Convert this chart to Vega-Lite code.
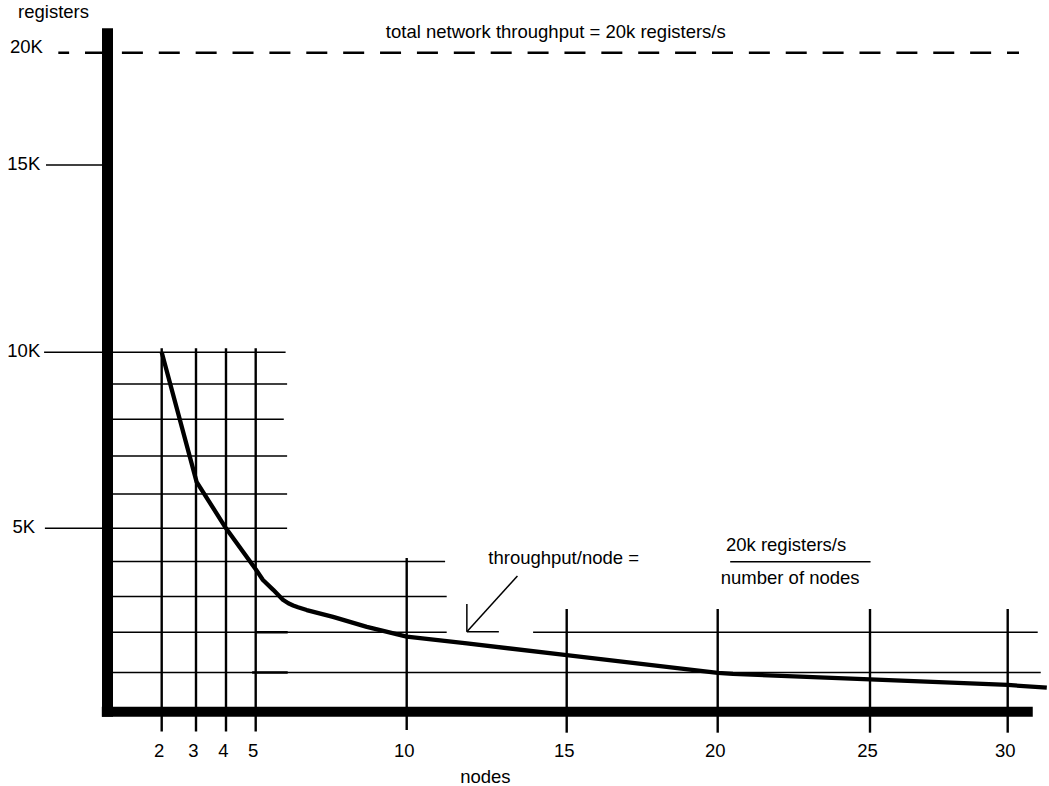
{
  "$schema": "https://vega.github.io/schema/vega-lite/v6.json",
  "width": 1049,
  "height": 786,
  "autosize": {"type": "none"},
  "padding": 0,
  "background": "white",
  "config": {"view": {"stroke": null}, "font": "Liberation Sans"},
  "datasets": {
    "hgrid": [
      {"registers": 15000, "nodes": -2.27, "nodes2": 0},
      {"registers": 10000, "nodes": -2.34, "nodes2": 5.99},
      {"registers": 9000, "nodes": 0, "nodes2": 6.04},
      {"registers": 8000, "nodes": 0, "nodes2": 5.93},
      {"registers": 7000, "nodes": 0, "nodes2": 6.04},
      {"registers": 6000, "nodes": 0, "nodes2": 6.04},
      {"registers": 5000, "nodes": -2.31, "nodes2": 6.04},
      {"registers": 4000, "nodes": 0, "nodes2": 11.2},
      {"registers": 3000, "nodes": 0, "nodes2": 11.25},
      {"registers": 2000, "nodes": 0, "nodes2": 11.25},
      {"registers": 2000, "nodes": 13.95, "nodes2": 31.09},
      {"registers": 1000, "nodes": 0, "nodes2": 31.2}
    ],
    "hbits": [
      {"registers": 2000, "nodes": 4.98, "nodes2": 6.06},
      {"registers": 1000, "nodes": 4.88, "nodes2": 6.06}
    ],
    "total": [
      {"registers": 20000, "nodes": -1.815, "nodes2": 30.41}
    ],
    "vticks": [
      {"nodes": 2, "registers": -504, "registers2": 10107},
      {"nodes": 3, "registers": -504, "registers2": 10107},
      {"nodes": 4, "registers": -504, "registers2": 10107},
      {"nodes": 5, "registers": -504, "registers2": 10107},
      {"nodes": 10, "registers": -466, "registers2": 4105},
      {"nodes": 15, "registers": -534, "registers2": 2650},
      {"nodes": 20, "registers": -534, "registers2": 2650},
      {"nodes": 25, "registers": -534, "registers2": 2650},
      {"nodes": 30, "registers": -534, "registers2": 2650}
    ],
    "arrow": [
      {"nodes": 13.46, "registers": 3586, "nodes2": 11.88, "registers2": 2014},
      {"nodes": 11.88, "registers": 2790, "nodes2": 11.88, "registers2": 2014},
      {"nodes": 11.88, "registers": 2014, "nodes2": 12.88, "registers2": 2014}
    ],
    "fraction": [
      {"registers": 3995, "nodes": 20.41, "nodes2": 25.02}
    ],
    "curve": [
      {"nodes": 2, "registers": 10000},
      {"nodes": 3.02, "registers": 6320},
      {"nodes": 4, "registers": 5000},
      {"nodes": 5, "registers": 3780},
      {"nodes": 5.24, "registers": 3470},
      {"nodes": 5.58, "registers": 3190},
      {"nodes": 5.9, "registers": 2910},
      {"nodes": 6.08, "registers": 2810},
      {"nodes": 6.24, "registers": 2750},
      {"nodes": 6.4, "registers": 2700},
      {"nodes": 6.69, "registers": 2620},
      {"nodes": 7.56, "registers": 2430},
      {"nodes": 8.68, "registers": 2150},
      {"nodes": 10, "registers": 1890},
      {"nodes": 11.88, "registers": 1720},
      {"nodes": 15, "registers": 1430},
      {"nodes": 20, "registers": 990},
      {"nodes": 20.5, "registers": 960},
      {"nodes": 25, "registers": 820},
      {"nodes": 30, "registers": 680},
      {"nodes": 31.42, "registers": 610}
    ],
    "yaxis": [
      {"nodes": 0, "registers": -127, "registers2": 21086}
    ],
    "xaxis": [
      {"registers": 0, "nodes": -0.21, "nodes2": 30.91}
    ],
    "xlabels": [
      {"nodes": 2, "label": "2"},
      {"nodes": 3, "label": "3"},
      {"nodes": 4, "label": "4"},
      {"nodes": 5, "label": "5"},
      {"nodes": 10, "label": "10"},
      {"nodes": 15, "label": "15"},
      {"nodes": 20, "label": "20"},
      {"nodes": 25, "label": "25"},
      {"nodes": 30, "label": "30"}
    ],
    "ylabels": [
      {"registers": 15000, "label": "15K"},
      {"registers": 10000, "label": "10K"},
      {"registers": 5000, "label": "5K"}
    ],
    "notes": [
      {"text": "registers", "nodes": -3.3, "registers": 21532},
      {"text": "20K", "nodes": -3.6, "registers": 19973},
      {"text": "total network throughput = 20k registers/s", "nodes": 9.31, "registers": 20641},
      {"text": "throughput/node =", "nodes": 12.55, "registers": 3920},
      {"text": "20k registers/s", "nodes": 20.27, "registers": 4325},
      {"text": "number of nodes", "nodes": 20.1, "registers": 3349},
      {"text": "nodes", "nodes": 11.67, "registers": -1814}
    ]
  },
  "layer": [
    {
      "data": {"name": "hgrid"},
      "mark": {"type": "rule", "color": "black", "strokeWidth": 1.5},
      "encoding": {
        "x": {"field": "nodes", "type": "quantitative", "axis": null, "scale": {"domain": [0,2,3,4,5,10,15,20,25,30], "range": [107.5,161.7,196,226,255.7,406.7,566.7,717.7,870,1007.7], "zero": false, "nice": false}},
        "x2": {"field": "nodes2"},
        "y": {"field": "registers", "type": "quantitative", "axis": null, "scale": {"domain": [0,1000,2000,3000,4000,5000,6000,7000,8000,9000,10000,15000,20000], "range": [711.7,672.4,632.2,596.5,561.5,528.3,494,456,419.3,384,352.3,165,52.7], "zero": false, "nice": false}}
      }
    },
    {
      "data": {"name": "hbits"},
      "mark": {"type": "rule", "color": "black", "strokeWidth": 2.5},
      "encoding": {
        "x": {"field": "nodes", "type": "quantitative", "axis": null, "scale": {"domain": [0,2,3,4,5,10,15,20,25,30], "range": [107.5,161.7,196,226,255.7,406.7,566.7,717.7,870,1007.7], "zero": false, "nice": false}},
        "x2": {"field": "nodes2"},
        "y": {"field": "registers", "type": "quantitative", "axis": null, "scale": {"domain": [0,1000,2000,3000,4000,5000,6000,7000,8000,9000,10000,15000,20000], "range": [711.7,672.4,632.2,596.5,561.5,528.3,494,456,419.3,384,352.3,165,52.7], "zero": false, "nice": false}}
      }
    },
    {
      "data": {"name": "total"},
      "mark": {"type": "rule", "color": "black", "strokeWidth": 2.5, "strokeDash": [21, 15.88], "strokeDashOffset": 10.18},
      "encoding": {
        "x": {"field": "nodes", "type": "quantitative", "axis": null, "scale": {"domain": [0,2,3,4,5,10,15,20,25,30], "range": [107.5,161.7,196,226,255.7,406.7,566.7,717.7,870,1007.7], "zero": false, "nice": false}},
        "x2": {"field": "nodes2"},
        "y": {"field": "registers", "type": "quantitative", "axis": null, "scale": {"domain": [0,1000,2000,3000,4000,5000,6000,7000,8000,9000,10000,15000,20000], "range": [711.7,672.4,632.2,596.5,561.5,528.3,494,456,419.3,384,352.3,165,52.7], "zero": false, "nice": false}}
      }
    },
    {
      "data": {"name": "vticks"},
      "mark": {"type": "rule", "color": "black", "strokeWidth": 2.4},
      "encoding": {
        "x": {"field": "nodes", "type": "quantitative", "axis": null, "scale": {"domain": [0,2,3,4,5,10,15,20,25,30], "range": [107.5,161.7,196,226,255.7,406.7,566.7,717.7,870,1007.7], "zero": false, "nice": false}},
        "y": {"field": "registers", "type": "quantitative", "axis": null, "scale": {"domain": [0,1000,2000,3000,4000,5000,6000,7000,8000,9000,10000,15000,20000], "range": [711.7,672.4,632.2,596.5,561.5,528.3,494,456,419.3,384,352.3,165,52.7], "zero": false, "nice": false}},
        "y2": {"field": "registers2"}
      }
    },
    {
      "data": {"name": "arrow"},
      "mark": {"type": "rule", "color": "black", "strokeWidth": 1.5},
      "encoding": {
        "x": {"field": "nodes", "type": "quantitative", "axis": null, "scale": {"domain": [0,2,3,4,5,10,15,20,25,30], "range": [107.5,161.7,196,226,255.7,406.7,566.7,717.7,870,1007.7], "zero": false, "nice": false}},
        "x2": {"field": "nodes2"},
        "y": {"field": "registers", "type": "quantitative", "axis": null, "scale": {"domain": [0,1000,2000,3000,4000,5000,6000,7000,8000,9000,10000,15000,20000], "range": [711.7,672.4,632.2,596.5,561.5,528.3,494,456,419.3,384,352.3,165,52.7], "zero": false, "nice": false}},
        "y2": {"field": "registers2"}
      }
    },
    {
      "data": {"name": "fraction"},
      "mark": {"type": "rule", "color": "black", "strokeWidth": 1.5},
      "encoding": {
        "x": {"field": "nodes", "type": "quantitative", "axis": null, "scale": {"domain": [0,2,3,4,5,10,15,20,25,30], "range": [107.5,161.7,196,226,255.7,406.7,566.7,717.7,870,1007.7], "zero": false, "nice": false}},
        "x2": {"field": "nodes2"},
        "y": {"field": "registers", "type": "quantitative", "axis": null, "scale": {"domain": [0,1000,2000,3000,4000,5000,6000,7000,8000,9000,10000,15000,20000], "range": [711.7,672.4,632.2,596.5,561.5,528.3,494,456,419.3,384,352.3,165,52.7], "zero": false, "nice": false}}
      }
    },
    {
      "data": {"name": "curve"},
      "mark": {"type": "line", "color": "black", "strokeWidth": 4.3, "strokeJoin": "round", "interpolate": "linear"},
      "encoding": {
        "x": {"field": "nodes", "type": "quantitative", "axis": null, "scale": {"domain": [0,2,3,4,5,10,15,20,25,30], "range": [107.5,161.7,196,226,255.7,406.7,566.7,717.7,870,1007.7], "zero": false, "nice": false}},
        "y": {"field": "registers", "type": "quantitative", "axis": null, "scale": {"domain": [0,1000,2000,3000,4000,5000,6000,7000,8000,9000,10000,15000,20000], "range": [711.7,672.4,632.2,596.5,561.5,528.3,494,456,419.3,384,352.3,165,52.7], "zero": false, "nice": false}}
      }
    },
    {
      "data": {"name": "yaxis"},
      "mark": {"type": "rule", "color": "black", "strokeWidth": 11},
      "encoding": {
        "x": {"field": "nodes", "type": "quantitative", "axis": null, "scale": {"domain": [0,2,3,4,5,10,15,20,25,30], "range": [107.5,161.7,196,226,255.7,406.7,566.7,717.7,870,1007.7], "zero": false, "nice": false}},
        "y": {"field": "registers", "type": "quantitative", "axis": null, "scale": {"domain": [0,1000,2000,3000,4000,5000,6000,7000,8000,9000,10000,15000,20000], "range": [711.7,672.4,632.2,596.5,561.5,528.3,494,456,419.3,384,352.3,165,52.7], "zero": false, "nice": false}},
        "y2": {"field": "registers2"}
      }
    },
    {
      "data": {"name": "xaxis"},
      "mark": {"type": "rule", "color": "black", "strokeWidth": 10},
      "encoding": {
        "x": {"field": "nodes", "type": "quantitative", "axis": null, "scale": {"domain": [0,2,3,4,5,10,15,20,25,30], "range": [107.5,161.7,196,226,255.7,406.7,566.7,717.7,870,1007.7], "zero": false, "nice": false}},
        "x2": {"field": "nodes2"},
        "y": {"field": "registers", "type": "quantitative", "axis": null, "scale": {"domain": [0,1000,2000,3000,4000,5000,6000,7000,8000,9000,10000,15000,20000], "range": [711.7,672.4,632.2,596.5,561.5,528.3,494,456,419.3,384,352.3,165,52.7], "zero": false, "nice": false}}
      }
    },
    {
      "data": {"name": "xlabels"},
      "mark": {"type": "text", "color": "black", "font": "Liberation Sans", "fontSize": 18.5, "align": "center", "baseline": "alphabetic", "dx": -2.5},
      "encoding": {
        "x": {"field": "nodes", "type": "quantitative", "axis": null, "scale": {"domain": [0,2,3,4,5,10,15,20,25,30], "range": [107.5,161.7,196,226,255.7,406.7,566.7,717.7,870,1007.7], "zero": false, "nice": false}},
        "y": {"datum": -1153, "type": "quantitative", "axis": null, "scale": {"domain": [0,1000,2000,3000,4000,5000,6000,7000,8000,9000,10000,15000,20000], "range": [711.7,672.4,632.2,596.5,561.5,528.3,494,456,419.3,384,352.3,165,52.7], "zero": false, "nice": false}},
        "text": {"field": "label"}
      }
    },
    {
      "data": {"name": "ylabels"},
      "mark": {"type": "text", "color": "black", "font": "Liberation Sans", "fontSize": 18.5, "align": "center", "baseline": "alphabetic", "dy": 4.5},
      "encoding": {
        "x": {"datum": -3.09, "type": "quantitative", "axis": null, "scale": {"domain": [0,2,3,4,5,10,15,20,25,30], "range": [107.5,161.7,196,226,255.7,406.7,566.7,717.7,870,1007.7], "zero": false, "nice": false}},
        "y": {"field": "registers", "type": "quantitative", "axis": null, "scale": {"domain": [0,1000,2000,3000,4000,5000,6000,7000,8000,9000,10000,15000,20000], "range": [711.7,672.4,632.2,596.5,561.5,528.3,494,456,419.3,384,352.3,165,52.7], "zero": false, "nice": false}},
        "text": {"field": "label"}
      }
    },
    {
      "data": {"name": "notes"},
      "mark": {"type": "text", "color": "black", "font": "Liberation Sans", "fontSize": 18.5, "align": "left", "baseline": "alphabetic"},
      "encoding": {
        "x": {"field": "nodes", "type": "quantitative", "axis": null, "scale": {"domain": [0,2,3,4,5,10,15,20,25,30], "range": [107.5,161.7,196,226,255.7,406.7,566.7,717.7,870,1007.7], "zero": false, "nice": false}},
        "y": {"field": "registers", "type": "quantitative", "axis": null, "scale": {"domain": [0,1000,2000,3000,4000,5000,6000,7000,8000,9000,10000,15000,20000], "range": [711.7,672.4,632.2,596.5,561.5,528.3,494,456,419.3,384,352.3,165,52.7], "zero": false, "nice": false}},
        "text": {"field": "text"}
      }
    }
  ]
}
